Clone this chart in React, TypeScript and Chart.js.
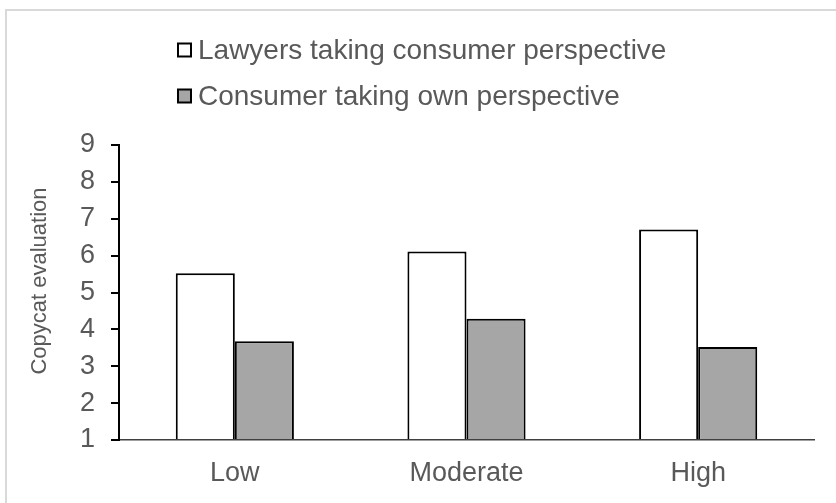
import React, { useEffect, useRef } from "react";
import { Chart, registerables } from "chart.js";

Chart.register(...registerables);

const categories = ["Low", "Moderate", "High"];
const seriesLabels = [
  "Lawyers taking consumer perspective",
  "Consumer taking own perspective",
];
const lawyersValues = [5.52, 6.11, 6.71];
const consumerValues = [3.68, 4.29, 3.52];
const yMin = 1;
const yMax = 9;
const yStep = 1;
const axisTitle = "Copycat evaluation";

const FONT = "'Liberation Sans', Arial, sans-serif";
const TEXT = "#595959";

const overlayPlugin = {
  id: "overlay",
  afterDraw(chart: any) {
    const ctx = chart.ctx;
    ctx.save();
    // outer frame
    ctx.strokeStyle = "#d9d9d9";
    ctx.lineWidth = 2;
    ctx.beginPath();
    ctx.moveTo(6, 503);
    ctx.lineTo(6, 10);
    ctx.lineTo(836, 10);
    ctx.stroke();

    // legend
    const rows = [50, 96];
    chart.data.datasets.forEach((ds: any, i: number) => {
      const y = rows[i];
      ctx.fillStyle = ds.backgroundColor;
      ctx.fillRect(178, y - 6.5, 13, 13);
      ctx.strokeStyle = "#000";
      ctx.lineWidth = 2;
      ctx.strokeRect(178, y - 6.5, 13, 13);
      ctx.fillStyle = TEXT;
      ctx.font = `28px ${FONT}`;
      ctx.textBaseline = "middle";
      ctx.textAlign = "left";
      ctx.fillText(ds.label, 198, y + 1);
    });

    // y axis title
    ctx.translate(40, 281);
    ctx.rotate(-Math.PI / 2);
    ctx.textAlign = "center";
    ctx.textBaseline = "middle";
    ctx.fillStyle = TEXT;
    ctx.font = `22px ${FONT}`;
    ctx.fillText(axisTitle, 0, 0);
    ctx.restore();
  },
};

export default function App() {
  const canvasRef = useRef<HTMLCanvasElement | null>(null);

  useEffect(() => {
    if (!canvasRef.current) return;
    const chart = new Chart(canvasRef.current, {
      type: "bar",
      data: {
        labels: categories,
        datasets: [
          {
            label: seriesLabels[0],
            data: lawyersValues,
            backgroundColor: "#ffffff",
            borderColor: "#000000",
            borderWidth: 2,
            base: yMin,
            barPercentage: 1,
            categoryPercentage: 0.51,
          } as any,
          {
            label: seriesLabels[1],
            data: consumerValues,
            backgroundColor: "#a6a6a6",
            borderColor: "#000000",
            borderWidth: 2,
            base: yMin,
            barPercentage: 1,
            categoryPercentage: 0.51,
          } as any,
        ],
      },
      options: {
        animation: false,
        responsive: true,
        maintainAspectRatio: false,
        layout: { padding: { left: 0, right: 22, top: 145, bottom: 0 } },
        plugins: {
          legend: { display: false },
          tooltip: { enabled: false },
          title: { display: false },
        },
        scales: {
          x: {
            grid: { display: false, drawTicks: false, drawOnChartArea: false },
            border: { display: true, color: "#404040", width: 1.5 },
            ticks: { color: TEXT, font: { family: FONT, size: 27 }, padding: 17 },
            afterFit: (s: any) => {
              s.height = 63;
            },
          },
          y: {
            min: yMin,
            max: yMax,
            ticks: {
              stepSize: yStep,
              color: TEXT,
              font: { family: FONT, size: 27 },
              padding: 16,
            },
            grid: {
              display: true,
              drawOnChartArea: false,
              drawTicks: true,
              tickLength: 8,
              color: "#000000",
              lineWidth: 2,
            },
            border: { display: true, color: "#000000", width: 2 },
            afterFit: (s: any) => {
              s.width = 119;
            },
          },
        },
      },
      plugins: [overlayPlugin],
    });
    return () => chart.destroy();
  }, []);

  return (
    <div style={{ position: "absolute", left: 0, top: 0, width: 836, height: 503 }}>
      <canvas ref={canvasRef} />
    </div>
  );
}
